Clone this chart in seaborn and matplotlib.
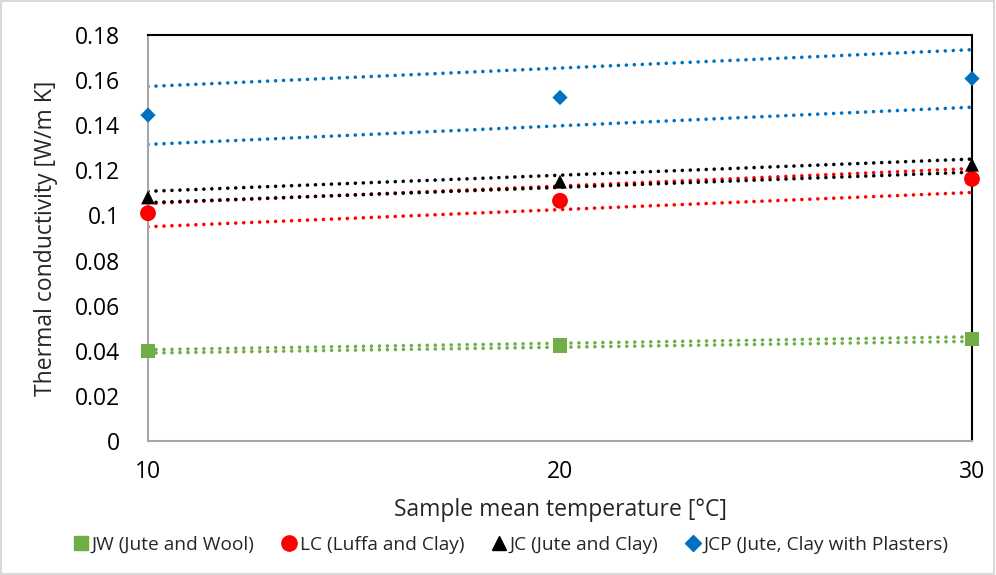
import numpy as np
import pandas as pd
import matplotlib.pyplot as plt
import seaborn as sns
from matplotlib.lines import Line2D
from matplotlib.patches import Rectangle

# measured values
temps = [10, 20, 30]
jw = [0.0399, 0.0423, 0.0453]
lc = [0.1010, 0.1065, 0.1162]
jc = [0.1080, 0.1150, 0.1225]
jcp = [0.1445, 0.1523, 0.1607]

# dotted bound lines, values at 10 and 30 degC
line_x = [10, 30]
jw_up = [0.0405, 0.0462]
jw_low = [0.0390, 0.0442]
lc_up = [0.1053, 0.1208]
lc_low = [0.0950, 0.1102]
jc_up = [0.1107, 0.1250]
jc_low = [0.1057, 0.1192]
jcp_up = [0.1572, 0.1735]
jcp_low = [0.1315, 0.1480]

labels = ['JW (Jute and Wool)', 'LC (Luffa and Clay)', 'JC (Jute and Clay)',
          'JCP (Jute, Clay with Plasters)']
colors = ['#70AD47', '#FF0000', '#000000', '#0070C0']
markers = ['s', 'o', '^', 'D']
sizes = [110, 130, 100, 60]

sns.set_style('white')
plt.rcParams['font.family'] = ['Open Sans', 'DejaVu Sans']

df = pd.DataFrame({
    'temp': temps * 4,
    'k': jw + lc + jc + jcp,
    'sample': np.repeat(labels, 3),
})

fig = plt.figure(figsize=(9.96, 5.75), dpi=100)
ax = fig.add_axes([0.1486, 0.2330, 0.8273, 0.7061])

bounds = [(jw_up, jw_low), (lc_up, lc_low), (jc_up, jc_low), (jcp_up, jcp_low)]
for (up, low), c in zip(bounds, colors):
    for yy in (up, low):
        ax.plot(line_x, yy, color=c, linestyle=(0, (0.01, 2.2)), linewidth=2.6,
                dash_capstyle='round', zorder=2)

for lab, c, m, s in zip(labels, colors, markers, sizes):
    sub = df[df['sample'] == lab]
    sns.scatterplot(data=sub, x='temp', y='k', color=c, marker=m, s=s,
                    edgecolor='none', ax=ax, zorder=4, clip_on=False, legend=False)

ax.set_xlim(10, 30)
ax.set_ylim(0, 0.18)
ax.set_xticks([10, 20, 30])
ax.set_yticks(np.arange(0, 0.181, 0.02))
ax.set_yticklabels(['0', '0.02', '0.04', '0.06', '0.08', '0.1', '0.12', '0.14',
                    '0.16', '0.18'])
ax.tick_params(length=0, labelsize=16.5, colors='#000000')
ax.tick_params(axis='y', pad=20)
ax.tick_params(axis='x', pad=14)

for side in ['left', 'bottom']:
    ax.spines[side].set_color('#A6A6A6')
    ax.spines[side].set_linewidth(1.5)
for side in ['top', 'right']:
    ax.spines[side].set_color('#000000')
    ax.spines[side].set_linewidth(1.5)

ax.set_xlabel('Sample mean temperature [°C]', fontsize=16.5, labelpad=10)
ax.set_ylabel('Thermal conductivity [W/m K]', fontsize=16.5, labelpad=12)

handles = [Line2D([], [], linestyle='none', marker=m, color=c, markersize=ms)
           for m, c, ms in zip(markers, colors, [10, 11, 10, 8])]
fig.legend(handles, labels, loc='center', bbox_to_anchor=(0.512, 0.052), ncol=4,
           frameon=False, fontsize=13.8, handletextpad=0.05, columnspacing=1.3,
           handlelength=1.0)

fig.patches.append(Rectangle((0.001, 0.001), 0.997, 0.997, transform=fig.transFigure,
                             fill=False, edgecolor='#D9D9D9', linewidth=1.5))

fig.savefig('out.png', dpi=100)
